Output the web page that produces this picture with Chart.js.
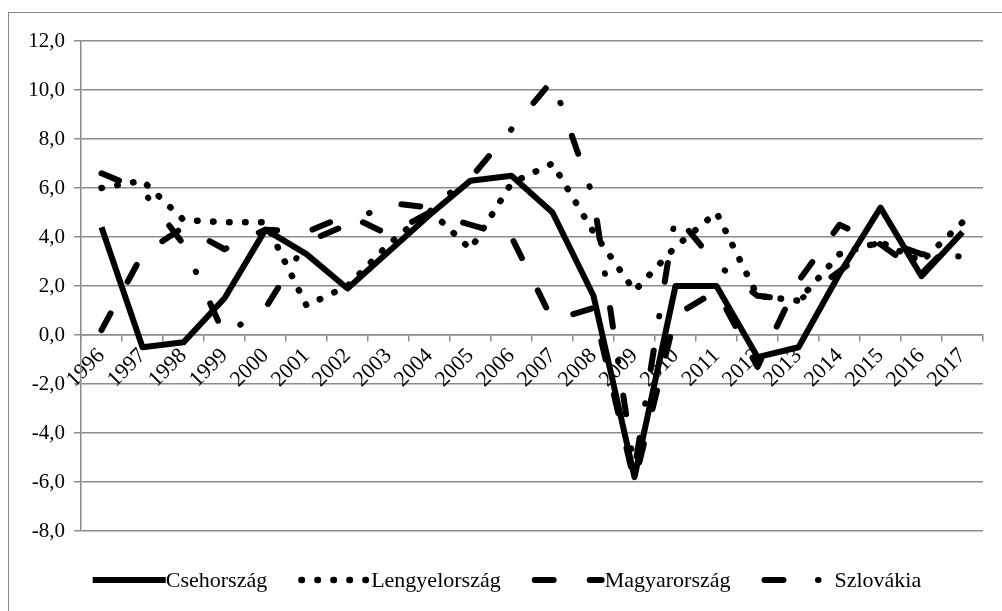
<!DOCTYPE html>
<html><head><meta charset="utf-8">
<script src="https://cdn.jsdelivr.net/npm/chart.js@4.4.1/dist/chart.umd.min.js"></script>
<style>
html,body{margin:0;padding:0;background:#fff;overflow:hidden;}
#frame{position:absolute;left:8px;top:12px;width:1100px;height:700px;border-left:1px solid #8a8a8a;border-top:1px solid #8a8a8a;}
#wrap{position:absolute;left:0;top:0;width:1002px;height:611px;}
</style></head><body>
<div id="frame"></div>
<div id="wrap"><canvas id="c" width="1002" height="611"></canvas></div>
<script>
const years = ['1996','1997','1998','1999','2000','2001','2002','2003','2004','2005','2006','2007','2008','2009','2010','2011','2012','2013','2014','2015','2016','2017'];
const csehorszag   = [4.4, -0.5, -0.3, 1.5, 4.3, 3.3, 1.9, 3.4, 4.9, 6.3, 6.5, 5.0, 1.6, -5.8, 2.0, 2.0, -0.9, -0.5, 2.5, 5.2, 2.4, 4.2];
const lengyelorszag = [6.0, 6.3, 4.7, 4.6, 4.6, 1.2, 2.0, 3.7, 5.1, 3.5, 6.2, 7.0, 4.2, 1.8, 3.6, 5.0, 1.6, 1.4, 3.3, 3.8, 3.0, 4.6];
const magyarorszag = [0.2, 3.3, 4.4, 3.5, 4.3, 4.2, 4.9, 4.1, 5.0, 4.5, 4.0, 0.6, 1.1, -6.0, 0.8, 1.8, -1.3, 2.2, 4.5, 3.7, 2.5, 4.2];
const szlovakia    = [6.6, 5.9, 3.7, 0.0, 1.1, 3.8, 4.5, 5.4, 5.2, 6.4, 8.4, 10.4, 5.6, -5.5, 4.9, 2.9, 1.6, 1.4, 2.6, 3.9, 3.3, 3.2];
const yTicks = [-8, -6, -4, -2, 0, 2, 4, 6, 8, 10, 12];
const yTickLabels = ['-8,0', '-6,0', '-4,0', '-2,0', '0,0', '2,0', '4,0', '6,0', '8,0', '10,0', '12,0'];

const GRID = '#8c8c8c';
const FONT = "'Liberation Serif', 'Times New Roman', serif";
Chart.defaults.font.family = FONT;
Chart.defaults.color = '#000';

const mk = (label, data, dash, w) => ({
  label, data, borderColor: '#000', backgroundColor: '#000', borderWidth: w,
  borderDash: dash, borderCapStyle: dash.length ? 'round' : 'butt', borderJoinStyle: 'round',
  pointRadius: 0, pointHoverRadius: 0, tension: 0, fill: false
});

// legend drawn from the datasets themselves (line samples with each dataset's dash pattern)
const lineLegend = {
  id: 'lineLegend',
  afterDraw(chart, args, opts) {
    const ctx = chart.ctx;
    const ds = chart.data.datasets;
    ctx.save();
    ctx.font = `${opts.fontSize}px ${FONT}`;
    const widths = ds.map(d => ctx.measureText(d.label).width);
    const total = ds.length * opts.sample + widths.reduce((a, b) => a + b, 0) + (ds.length - 1) * opts.gap;
    let x = opts.centerX - total / 2;
    const y = opts.y;
    ds.forEach((d, i) => {
      ctx.beginPath();
      ctx.setLineDash(d.borderDash || []);
      ctx.lineCap = d.borderCapStyle || 'butt';
      ctx.lineWidth = d.borderWidth;
      ctx.strokeStyle = d.borderColor;
      const inset = ctx.lineCap === 'round' ? d.borderWidth / 2 : 0;
      ctx.moveTo(x + inset, y);
      ctx.lineTo(x + opts.sample - inset, y);
      ctx.stroke();
      ctx.setLineDash([]);
      ctx.fillStyle = '#000';
      ctx.textBaseline = 'middle';
      ctx.textAlign = 'left';
      ctx.fillText(d.label, x + opts.sample, y + 1);
      x += opts.sample + widths[i] + opts.gap;
    });
    ctx.restore();
  }
};

new Chart(document.getElementById('c'), {
  type: 'line',
  data: {
    labels: years,
    datasets: [
      mk('Csehország', csehorszag, [], 6),
      mk('Lengyelország', lengyelorszag, [0.5, 15.5], 6.5),
      mk('Magyarország', magyarorszag, [19, 36], 6),
      mk('Szlovákia', szlovakia, [19, 34.5, 0.5, 34.5], 6)
    ]
  },
  plugins: [lineLegend],
  options: {
    responsive: false, animation: false, devicePixelRatio: 1,
    layout: { padding: { left: 0, right: 19, top: 41, bottom: 80 } },
    plugins: {
      title: { display: false }, tooltip: { enabled: false },
      legend: { display: false },
      lineLegend: { centerX: 507, y: 580, sample: 73, gap: 31, fontSize: 22 }
    },
    scales: {
      x: {
        position: { y: 0 }, offset: true,
        grid: { display: true, drawOnChartArea: false, drawTicks: true, tickLength: 6, offset: true, color: GRID, lineWidth: 1.5 },
        border: { display: true, color: GRID, width: 1.5 },
        ticks: { autoSkip: false, minRotation: 45, maxRotation: 45, padding: 2, font: { size: 22 }, color: '#000' }
      },
      y: {
        min: -8, max: 12,
        afterFit: (s) => { s.width = 81; },
        afterBuildTicks: (s) => { s.ticks = yTicks.map(v => ({ value: v })); },
        grid: { color: GRID, lineWidth: 1.5, tickLength: 7, drawTicks: true },
        border: { display: true, color: GRID, width: 1.5 },
        ticks: { padding: 9, font: { size: 21 }, color: '#000',
          callback: (v) => yTickLabels[yTicks.indexOf(v)] }
      }
    }
  }
});
</script>
</body></html>
